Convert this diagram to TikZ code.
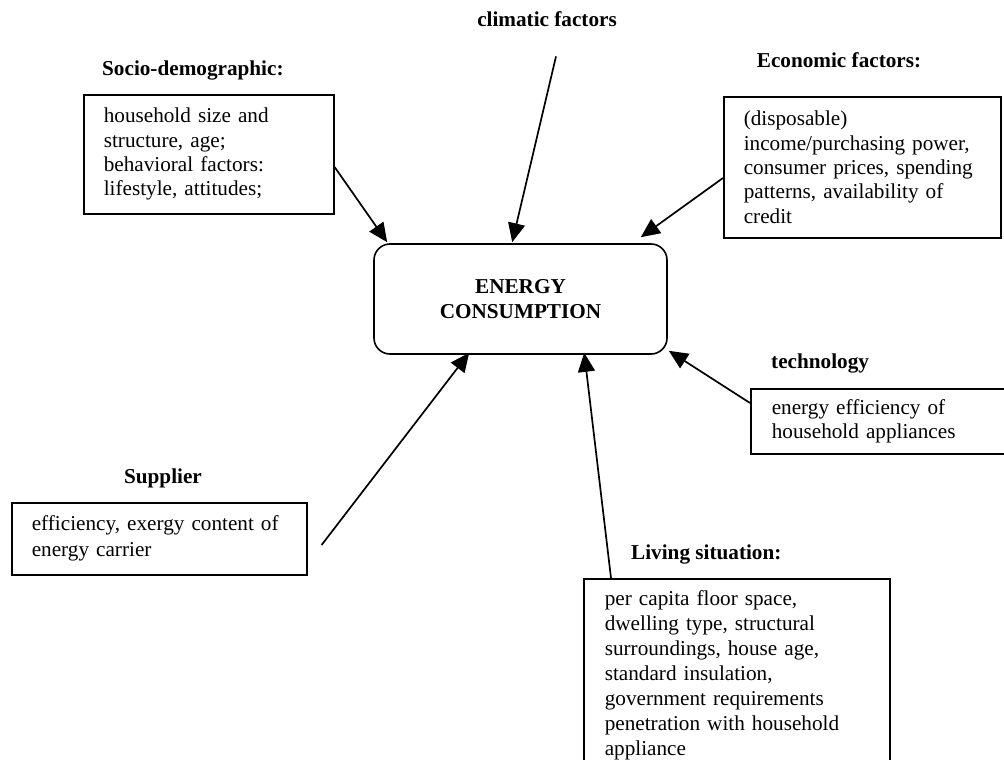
\documentclass[tikz,border=0pt]{standalone}
\usepackage{fontspec}
\setmainfont{Liberation Serif}
\usetikzlibrary{arrows.meta,calc}
\begin{document}
\begin{tikzpicture}[x=1pt,y=-1pt,
  every node/.style={font=\fontsize{21.2}{24.4}\selectfont},
  factorbox/.style={draw,line width=1.6pt,rectangle,anchor=north west,
    align=left,inner xsep=20pt,inner ysep=0pt},
  heading/.style={font=\fontsize{21.2}{24.4}\selectfont\bfseries,inner sep=0pt},
  centrebox/.style={draw,line width=1.6pt,rounded corners=16pt,align=center,
    font=\fontsize{21.2}{24.4}\selectfont\bfseries,
    minimum width=293pt,minimum height=110pt},
  feed/.style={line width=1.7pt,-{Triangle[length=19pt,width=17pt]}}
]
\useasboundingbox (0,0) rectangle (1004,760);

% central node
\node[centrebox] (energy) at (520.5,299) {ENERGY\\CONSUMPTION};

% factor boxes
\node[factorbox,text width=210pt,minimum height=119pt] (socio) at (83,94)
  {household size and\\structure, age;\\behavioral factors:\\lifestyle, attitudes;};
\node[factorbox,text width=237pt,minimum height=141pt] (econ) at (723,96)
  {(disposable)\\income/purchasing power,\\consumer prices, spending\\patterns, availability of\\credit};
\node[factorbox,inner xsep=21pt,text width=280pt,minimum height=65pt] (tech) at (750,388)
  {energy efficiency of\\household appliances};
\node[factorbox,font=\fontsize{21.2}{26}\selectfont,text width=255pt,minimum height=72pt] (supplier) at (11,502)
  {efficiency, exergy content of\\energy carrier};
\node[factorbox,font=\fontsize{21.2}{25}\selectfont,inner xsep=21pt,text width=264pt,minimum height=192pt] (living) at (583,578)
  {per capita floor space,\\dwelling type, structural\\surroundings, house age,\\standard insulation,\\government requirements\\penetration with household\\appliance};

% headings
\node[heading,anchor=base] (climatic) at (547,27) {climatic factors};
\node[heading,anchor=base west] (socioh) at (102,75) {Socio-demographic:};
\node[heading,anchor=base] (econh) at (839,68) {Economic factors:};
\node[heading,anchor=base west] (techh) at (771,368) {technology};
\node[heading,anchor=base] (supplierh) at (163,483) {Supplier};
\node[heading,anchor=base west] (livingh) at (631,559) {Living situation:};

% influences on energy consumption
\draw[feed] ($(socio.north east)+(0,73)$) -- ($(energy.north west)+(14,-1)$);
\draw[feed] ($(climatic.south)+(9,29)$) -- ($(energy.north west)+(139,-1)$);
\draw[feed] ($(econ.north west)+(0,82)$) -- ($(energy.north east)+(-27,-6)$);
\draw[feed] ($(tech.north west)+(0,15)$) -- ($(energy.south east)+(1,-4)$);
\draw[feed] ($(living.north west)+(28,0)$) -- ($(energy.south west)+(211,-2)$);
\draw[feed] ($(supplier.north east)+(14,43)$) -- ($(energy.south west)+(96,-2)$);
\end{tikzpicture}
\end{document}
